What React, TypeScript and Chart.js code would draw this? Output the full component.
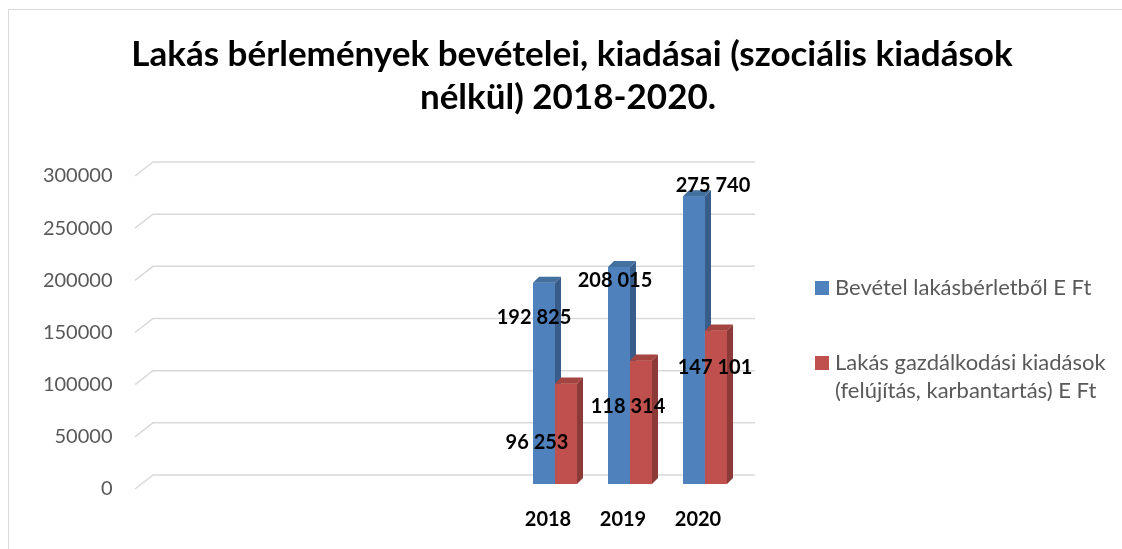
import React, { useEffect, useRef } from "react";
import { Chart, registerables } from "chart.js";

Chart.register(...registerables);

const categories = ["", "", "", "", "", "2018", "2019", "2020"];
const revenue = [null, null, null, null, null, 192825, 208015, 275740];
const expenses = [null, null, null, null, null, 96253, 118314, 147101];
const seriesNames = [
  "Bevétel lakásbérletből E Ft",
  "Lakás gazdálkodási kiadások (felújítás, karbantartás) E Ft",
];
const titleLines = [
  "Lakás bérlemények bevételei, kiadásai (szociális kiadások",
  "nélkül) 2018-2020.",
];
const yMin = 0;
const yMax = 300000;
const yStep = 50000;

// styles
const FRONT = ["#4f81bd", "#c0504d"];
const SIDE = ["#385d8a", "#8c3a37"];
const TOP = ["#44709f", "#a44440"];
const FONT = "Lato, 'Open Sans', sans-serif";
const DEPTH = 6;
const labelOffsets: Record<string, [number, number]> = {
  "0-5": [-10, 35],
  "0-6": [-4, 14],
  "0-7": [19, -11],
  "1-5": [-29, 59],
  "1-6": [-13, 46],
  "1-7": [-1, 37],
};

const fmt = (v: number) =>
  Math.round(v).toString().replace(/\B(?=(\d{3})+(?!\d))/g, " ");

const framePlugin = {
  id: "frame",
  beforeDraw(chart: any) {
    const ctx = chart.ctx;
    ctx.save();
    ctx.strokeStyle = "#d9d9d9";
    ctx.lineWidth = 1;
    ctx.beginPath();
    ctx.moveTo(8.5, chart.height);
    ctx.lineTo(8.5, 9.5);
    ctx.lineTo(chart.width, 9.5);
    ctx.stroke();
    ctx.fillStyle = "#000";
    ctx.font = `bold 35px ${FONT}`;
    ctx.textAlign = "center";
    ctx.textBaseline = "alphabetic";
    ctx.fillText(titleLines[0], 572, 66);
    ctx.fillText(titleLines[1], 568, 109);
    ctx.restore();
  },
};

const gridPlugin = {
  id: "grid3d",
  beforeDatasetsDraw(chart: any) {
    const ctx = chart.ctx;
    const ys = chart.scales.y;
    const area = chart.chartArea;
    ctx.save();
    ctx.strokeStyle = "#d9d9d9";
    ctx.lineWidth = 1.5;
    for (let v = yMin; v <= yMax; v += yStep) {
      const yb = ys.getPixelForValue(v) - 9;
      const yf = yb + 14;
      const xf = area.left - 7.5;
      const xb = xf + 18;
      const xr = area.right + 12.5;
      ctx.beginPath();
      ctx.moveTo(xf, yf);
      ctx.lineTo(xb, yb);
      ctx.lineTo(xr, yb);
      ctx.stroke();
    }
    ctx.restore();
  },
};

const bars3dPlugin = {
  id: "bars3d",
  afterDatasetsDraw(chart: any) {
    const ctx = chart.ctx;
    ctx.save();
    chart.data.datasets.forEach((ds: any, di: number) => {
      const meta = chart.getDatasetMeta(di);
      meta.data.forEach((el: any, i: number) => {
        if (ds.data[i] == null) return;
        const { x, y, base, width } = el.getProps(["x", "y", "base", "width"], true);
        const l = x - width / 2;
        const r = x + width / 2;
        ctx.fillStyle = FRONT[di];
        ctx.fillRect(l, y, width, base - y);
        ctx.fillStyle = SIDE[di];
        ctx.beginPath();
        ctx.moveTo(r, y);
        ctx.lineTo(r + DEPTH, y - DEPTH);
        ctx.lineTo(r + DEPTH, base - DEPTH);
        ctx.lineTo(r, base);
        ctx.closePath();
        ctx.fill();
        ctx.fillStyle = TOP[di];
        ctx.beginPath();
        ctx.moveTo(l, y);
        ctx.lineTo(l + DEPTH, y - DEPTH);
        ctx.lineTo(r + DEPTH, y - DEPTH);
        ctx.lineTo(r, y);
        ctx.closePath();
        ctx.fill();
      });
    });
    ctx.fillStyle = "#000";
    ctx.font = `bold 20px ${FONT}`;
    ctx.textAlign = "center";
    ctx.textBaseline = "middle";
    chart.data.datasets.forEach((ds: any, di: number) => {
      const meta = chart.getDatasetMeta(di);
      meta.data.forEach((el: any, i: number) => {
        const v = ds.data[i];
        if (v == null) return;
        const { x, y } = el.getProps(["x", "y"], true);
        const off = labelOffsets[`${di}-${i}`] || [0, -12];
        ctx.fillText(fmt(v), x + off[0], y + off[1]);
      });
    });
    ctx.font = `22px ${FONT}`;
    ctx.textAlign = "left";
    ctx.textBaseline = "middle";
    const legendX = 815;
    const maxW = 280;
    let ly = 288;
    chart.data.datasets.forEach((ds: any, di: number) => {
      ctx.fillStyle = FRONT[di];
      ctx.fillRect(legendX, ly - 7, 14, 14);
      ctx.fillStyle = "#595959";
      const words = String(ds.label).split(" ");
      const lines: string[] = [];
      let cur = "";
      words.forEach((w) => {
        const t = cur ? cur + " " + w : w;
        if (ctx.measureText(t).width > maxW && cur) {
          lines.push(cur);
          cur = w;
        } else cur = t;
      });
      if (cur) lines.push(cur);
      lines.forEach((ln, k) => ctx.fillText(ln, legendX + 20, ly + k * 28));
      ly += 75;
    });
    ctx.restore();
  },
};

export default function App() {
  const ref = useRef<HTMLCanvasElement>(null);
  useEffect(() => {
    if (!ref.current) return;
    const chart = new Chart(ref.current, {
      type: "bar",
      data: {
        labels: categories,
        datasets: [
          { label: seriesNames[0], data: revenue, backgroundColor: FRONT[0] },
          { label: seriesNames[1], data: expenses, backgroundColor: FRONT[1] },
        ],
      },
      options: {
        responsive: false,
        animation: false,
        devicePixelRatio: 1,
        layout: { padding: { top: 171, left: 42.5, right: 379.5, bottom: 15 } },
        datasets: { bar: { categoryPercentage: 44 / 75, barPercentage: 1 } },
        plugins: {
          legend: { display: false },
          title: { display: false },
          tooltip: { enabled: false },
        },
        scales: {
          x: {
            afterFit: (s: any) => {
              s.height = 50;
            },
            grid: { display: false, drawTicks: false },
            border: { display: false },
            ticks: {
              padding: 24,
              labelOffset: -7,
              color: "#000",
              font: { family: FONT, size: 20, weight: "bold" },
            },
          },
          y: {
            min: yMin,
            max: yMax,
            afterFit: (s: any) => {
              s.width = 100;
            },
            grid: { display: false, drawTicks: false },
            border: { display: false },
            ticks: {
              stepSize: yStep,
              padding: 30,
              labelOffset: 5,
              color: "#595959",
              font: { family: FONT, size: 20 },
              callback: (v: any) => String(v),
            },
          },
        },
      },
      plugins: [framePlugin, gridPlugin, bars3dPlugin],
    } as any);
    if ((document as any).fonts) {
      (document as any).fonts.ready.then(() => chart.draw());
    }
    return () => chart.destroy();
  }, []);
  return (
    <div style={{ position: "fixed", left: 0, top: 0, width: 1122, height: 549, background: "#fff" }}>
      <canvas ref={ref} width={1122} height={549} style={{ display: "block" }} />
    </div>
  );
}
